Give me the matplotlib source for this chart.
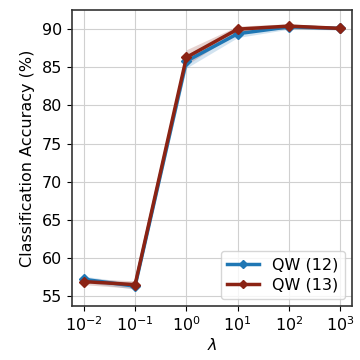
import numpy as np
import matplotlib
matplotlib.use("Agg")
import matplotlib.pyplot as plt

lambdas = [1e-2, 1e-1, 1e0, 1e1, 1e2, 1e3]
qw12_mean = [57.2, 56.3, 85.8, 89.4, 90.3, 90.1]
qw12_std = [0.4, 0.4, 0.9, 0.5, 0.3, 0.2]
qw13_mean = [56.9, 56.5, 86.3, 90.0, 90.4, 90.1]
qw13_std = [0.4, 0.5, 1.0, 0.4, 0.3, 0.2]
labels = ["QW (12)", "QW (13)"]
colors = ["#1f77b4", "#8b2314"]

fs = 11.5
fig, ax = plt.subplots(figsize=(3.6, 3.6), dpi=100)
for m, s, lab, c in [(qw12_mean, qw12_std, labels[0], colors[0]),
                     (qw13_mean, qw13_std, labels[1], colors[1])]:
    m = np.array(m); s = np.array(s)
    ax.fill_between(lambdas, m - s, m + s, color=c, alpha=0.2, linewidth=0)
    ax.plot(lambdas, m, marker="D", markersize=5, linewidth=2.5, color=c, label=lab)

ax.set_xscale("log")
ax.set_xlim(10**-2.23, 10**3.23)
ax.set_ylim(53.7, 92.5)
ax.set_xticks(lambdas)
ax.set_yticks([55, 60, 65, 70, 75, 80, 85, 90])
ax.tick_params(labelsize=fs)
ax.grid(True, color="#d0d0d0", linewidth=0.8)
ax.set_axisbelow(True)
for sp in ax.spines.values():
    sp.set_color("#333333")
    sp.set_linewidth(1.2)
ax.set_xlabel(r"$\lambda$", fontsize=fs, labelpad=2)
ax.set_ylabel("Classification Accuracy (%)", fontsize=fs, labelpad=5)
ax.legend(loc="lower right", fontsize=fs, labelspacing=0.3, markerscale=0.9,
          borderaxespad=0.45)
fig.subplots_adjust(left=0.2, right=0.978, top=0.972, bottom=0.15)
fig.savefig("out.png", dpi=100)
